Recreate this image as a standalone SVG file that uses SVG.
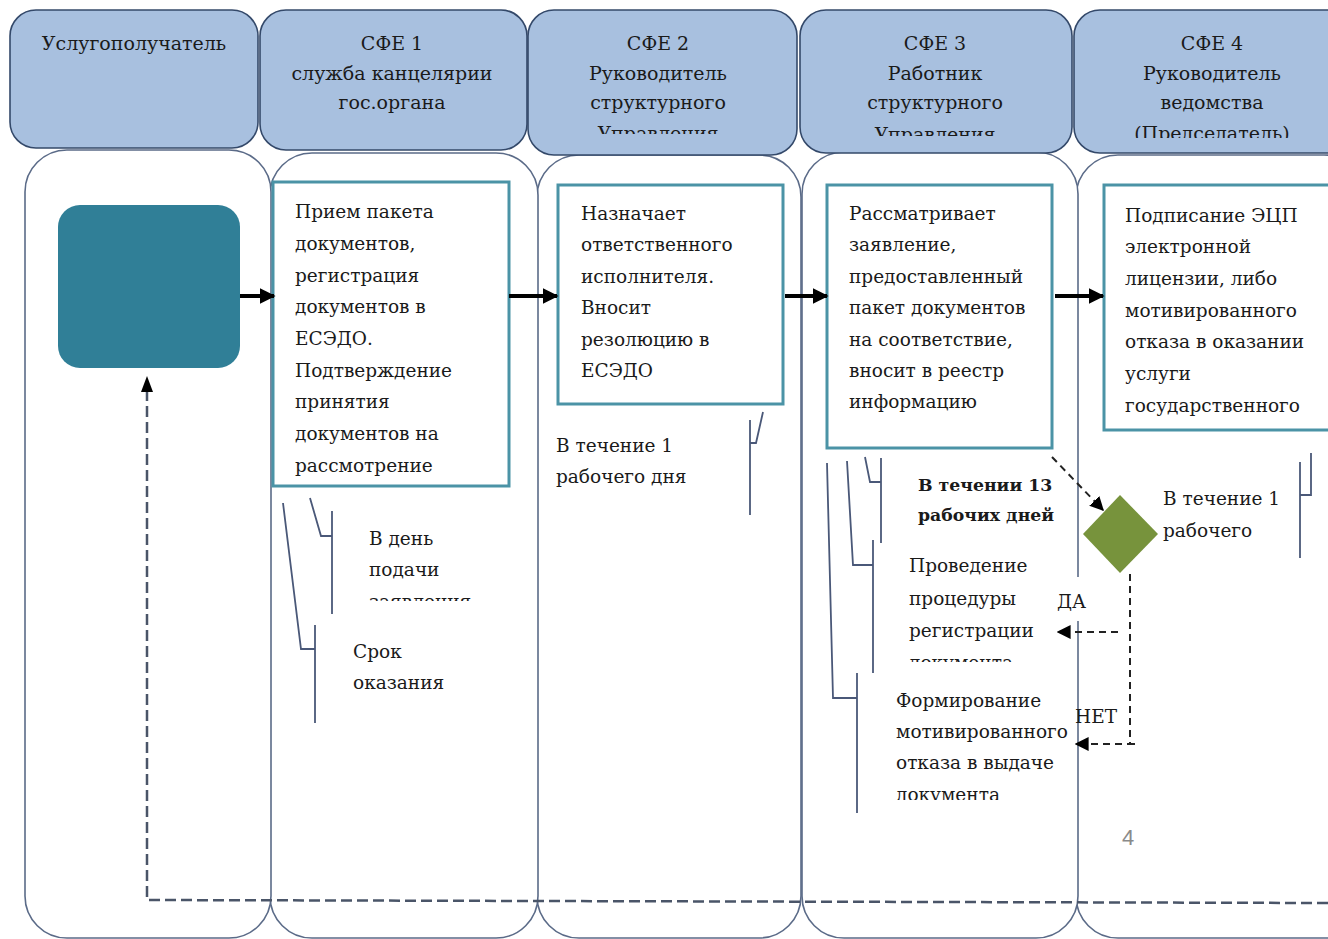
<svg xmlns="http://www.w3.org/2000/svg" width="1328" height="939" viewBox="0 0 1328 939">
<style>
.hdr{fill:#a8c0df;stroke:#34496a;stroke-width:1.6}
.lane{fill:#ffffff;stroke:#5b6b88;stroke-width:1.6}
.box{fill:#ffffff;stroke:#4b93a6;stroke-width:3}
.ht{font-family:'DejaVu Serif','Liberation Serif',serif;font-size:19px;fill:#1a1a1a;text-anchor:middle}
.bt{font-family:'DejaVu Serif','Liberation Serif',serif;font-size:18.5px;fill:#1a1a1a}
.bold{font-weight:bold;font-size:17.3px}
.br{fill:none;stroke:#4a5878;stroke-width:1.8}
.solid{stroke:#000;stroke-width:4;fill:none}
.dash{stroke:#222;stroke-width:2;stroke-dasharray:7,5;fill:none}
.ret{stroke:#4a5568;stroke-width:2.5;stroke-dasharray:11,5;fill:none}
</style>
<defs>
<marker id="ah" viewBox="0 0 10 10" refX="9" refY="5" markerWidth="4" markerHeight="4" orient="auto" markerUnits="strokeWidth"><path d="M0,0 L10,5 L0,10 z" fill="#000"/></marker>
<marker id="ahd" viewBox="0 0 10 10" refX="9" refY="5" markerWidth="7" markerHeight="7" orient="auto" markerUnits="strokeWidth"><path d="M0,0 L10,5 L0,10 z" fill="#000"/></marker>
<clipPath id="c2"><rect x="528" y="10" width="270" height="124"/></clipPath>
<clipPath id="c3"><rect x="800" y="10" width="272" height="126"/></clipPath>
<clipPath id="c4"><rect x="1074" y="10" width="260" height="128"/></clipPath>
<clipPath id="cden"><rect x="300" y="520" width="200" height="81"/></clipPath>
<clipPath id="cpro"><rect x="900" y="540" width="160" height="122"/></clipPath>
<clipPath id="cfor"><rect x="880" y="680" width="200" height="120"/></clipPath>
</defs>

<g id="lanes">
<rect class="lane" x="1076" y="155" width="290" height="783" rx="42"/>
<rect class="lane" x="802" y="152" width="276" height="786" rx="42"/>
<rect class="lane" x="537" y="155" width="264" height="783" rx="42"/>
<rect class="lane" x="270" y="153" width="268" height="785" rx="42"/>
<rect class="lane" x="25" y="150" width="246" height="788" rx="42"/>
</g>

<g id="headers">
<g id="h0"><rect class="hdr" x="10" y="10" width="248" height="138" rx="26"/>
<text class="ht" x="134" y="50">Услугополучатель</text></g>
<g id="h1"><rect class="hdr" x="260" y="10" width="267" height="140" rx="26"/>
<text class="ht" x="392" y="50">СФЕ 1</text><text class="ht" x="392" y="80">служба канцелярии</text><text class="ht" x="392" y="109">гос.органа</text></g>
<g id="h2"><rect class="hdr" x="528" y="10" width="269" height="145" rx="26"/>
<g clip-path="url(#c2)"><text class="ht" x="658" y="50">СФЕ 2</text><text class="ht" x="658" y="80">Руководитель</text><text class="ht" x="658" y="109">структурного</text><text class="ht" x="658" y="140">Управления</text></g></g>
<g id="h3"><rect class="hdr" x="800" y="10" width="272" height="143" rx="26"/>
<g clip-path="url(#c3)"><text class="ht" x="935" y="50">СФЕ 3</text><text class="ht" x="935" y="80">Работник</text><text class="ht" x="935" y="109">структурного</text><text class="ht" x="935" y="141">Управления</text></g></g>
<g id="h4"><rect class="hdr" x="1074" y="10" width="290" height="143" rx="26"/>
<g clip-path="url(#c4)"><text class="ht" x="1212" y="50">СФЕ 4</text><text class="ht" x="1212" y="80">Руководитель</text><text class="ht" x="1212" y="109">ведомства</text><text class="ht" x="1212" y="140">(Председатель)</text></g></g>
</g>

<g id="start"><rect x="58" y="205" width="182" height="163" rx="22" fill="#307f97"/></g>

<g id="b1"><rect class="box" x="273" y="182" width="236" height="304"/>
<text class="bt"><tspan x="295" y="218">Прием пакета</tspan><tspan x="295" y="250">документов,</tspan><tspan x="295" y="282">регистрация</tspan><tspan x="295" y="313">документов в</tspan><tspan x="295" y="345">ЕСЭДО.</tspan><tspan x="295" y="377">Подтверждение</tspan><tspan x="295" y="408">принятия</tspan><tspan x="295" y="440">документов на</tspan><tspan x="295" y="472">рассмотрение</tspan></text></g>

<g id="b2"><rect class="box" x="558" y="185" width="225" height="219"/>
<text class="bt"><tspan x="581" y="220">Назначает</tspan><tspan x="581" y="251">ответственного</tspan><tspan x="581" y="283">исполнителя.</tspan><tspan x="581" y="314">Вносит</tspan><tspan x="581" y="346">резолюцию  в</tspan><tspan x="581" y="377">ЕСЭДО</tspan></text></g>

<g id="b3"><rect class="box" x="827" y="185" width="225" height="263"/>
<text class="bt"><tspan x="849" y="220">Рассматривает</tspan><tspan x="849" y="251">заявление,</tspan><tspan x="849" y="283">предоставленный</tspan><tspan x="849" y="314">пакет документов</tspan><tspan x="849" y="346">на соответствие,</tspan><tspan x="849" y="377">вносит  в реестр</tspan><tspan x="849" y="408">информацию</tspan></text></g>

<g id="b4"><rect class="box" x="1104" y="185" width="240" height="245"/>
<text class="bt"><tspan x="1125" y="222">Подписание ЭЦП</tspan><tspan x="1125" y="253">электронной</tspan><tspan x="1125" y="285">лицензии, либо</tspan><tspan x="1125" y="317">мотивированного</tspan><tspan x="1125" y="348">отказа в оказании</tspan><tspan x="1125" y="380">услуги</tspan><tspan x="1125" y="412">государственного</tspan></text></g>

<g id="decision"><polygon points="1120,495 1158,534 1120,573 1083,534" fill="#77933c"/></g>

<g id="notes">
<rect x="1048" y="577" width="46" height="44" fill="#fff"/>
<text class="bt"><tspan x="556" y="452">В течение 1</tspan><tspan x="556" y="483">рабочего дня</tspan></text>
<g clip-path="url(#cden)"><text class="bt"><tspan x="369" y="545">В день</tspan><tspan x="369" y="576">подачи</tspan><tspan x="369" y="608">заявления</tspan></text></g>
<text class="bt"><tspan x="353" y="658">Срок</tspan><tspan x="353" y="689">оказания</tspan></text>
<text class="bt bold"><tspan x="918" y="491">В течении 13</tspan><tspan x="918" y="521">рабочих дней</tspan></text>
<g clip-path="url(#cpro)"><text class="bt"><tspan x="909" y="572">Проведение</tspan><tspan x="909" y="605">процедуры</tspan><tspan x="909" y="637">регистрации</tspan><tspan x="909" y="669">документа</tspan></text></g>
<g clip-path="url(#cfor)"><text class="bt"><tspan x="896" y="707">Формирование</tspan><tspan x="896" y="738">мотивированного</tspan><tspan x="896" y="769">отказа  в выдаче</tspan><tspan x="896" y="801">документа</tspan></text></g>
<text class="bt"><tspan x="1163" y="505">В течение 1</tspan><tspan x="1163" y="537">рабочего</tspan></text>
<text class="bt" x="1057" y="608">ДА</text>
<text class="bt" x="1075" y="723">НЕТ</text>
<text x="1128" y="845" font-family="'Liberation Sans',sans-serif" font-size="22" fill="#8a8a8a" text-anchor="middle">4</text>
</g>

<g id="brackets">
<polyline class="br" points="283,503 301,649 315,649"/>
<line class="br" x1="315" y1="625" x2="315" y2="723"/>
<polyline class="br" points="310,498 321,536 332,536"/>
<line class="br" x1="332" y1="511" x2="332" y2="614"/>
<polyline class="br" points="763,412 756,443 750,443"/>
<line class="br" x1="750" y1="420" x2="750" y2="515"/>
<polyline class="br" points="827,463 833,698 857,698"/>
<line class="br" x1="857" y1="673" x2="857" y2="813"/>
<polyline class="br" points="847,461 853,565 873,565"/>
<line class="br" x1="873" y1="540" x2="873" y2="673"/>
<polyline class="br" points="865,457 870,482 881,482"/>
<line class="br" x1="881" y1="458" x2="881" y2="543"/>
<polyline class="br" points="1311,453 1311,495 1300,495"/>
<line class="br" x1="1300" y1="462" x2="1300" y2="558"/>
</g>

<g id="connectors">
<line class="solid" x1="240" y1="296" x2="274" y2="296" marker-end="url(#ah)"/>
<line class="solid" x1="509" y1="296" x2="557" y2="296" marker-end="url(#ah)"/>
<line class="solid" x1="785" y1="296" x2="827" y2="296" marker-end="url(#ah)"/>
<line class="solid" x1="1055" y1="296" x2="1103" y2="296" marker-end="url(#ah)"/>
<line class="dash" x1="1052" y1="457" x2="1103" y2="510" marker-end="url(#ahd)"/>
<polyline class="dash" points="1130,574 1130,744 1135,744"/>
<line class="dash" x1="1118" y1="632" x2="1058" y2="632" marker-end="url(#ahd)"/>
<line class="dash" x1="1134" y1="744" x2="1076" y2="744" marker-end="url(#ahd)"/>
<polyline class="ret" points="1328,903 147,900 147,392"/>
<path d="M147,376 L141,392 L153,392 z" fill="#000"/>
</g>
</svg>
